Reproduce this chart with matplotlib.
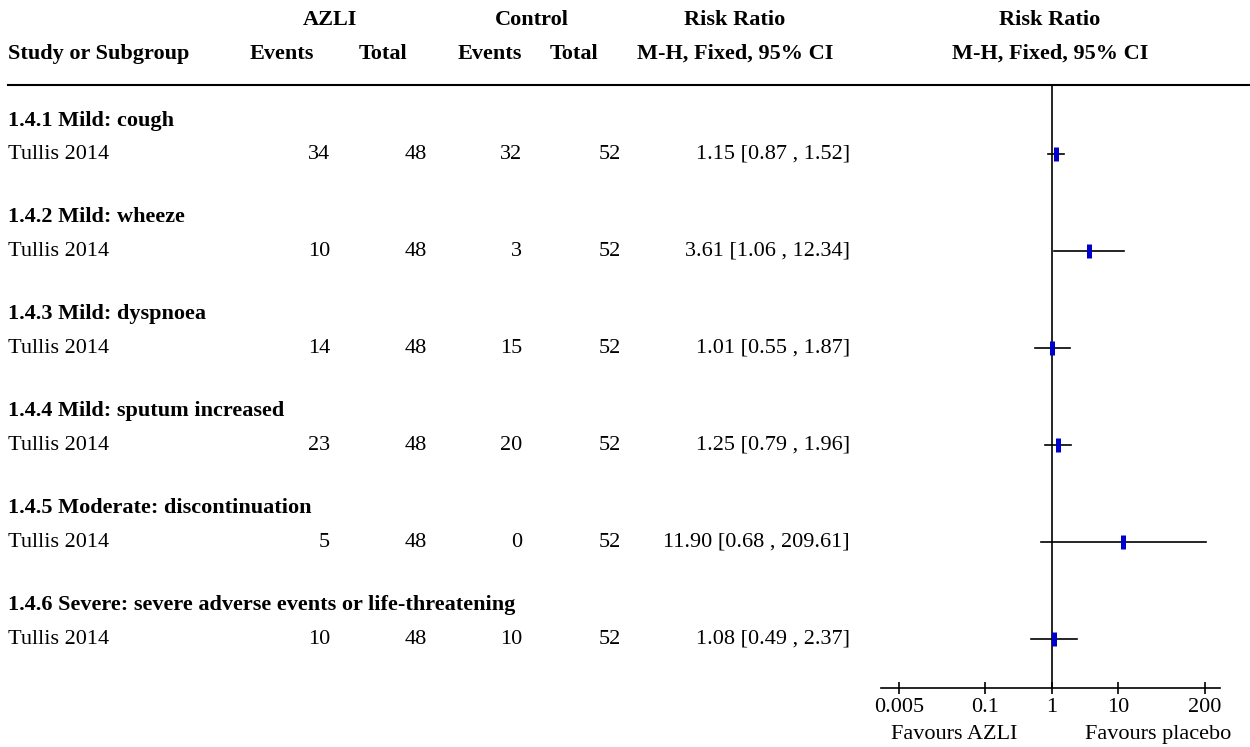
import numpy as np
import matplotlib.pyplot as plt
from matplotlib.transforms import blended_transform_factory

plt.rcParams['font.family'] = ['Liberation Serif', 'DejaVu Serif']

# Data
subgroups = ["1.4.1 Mild: cough",
             "1.4.2 Mild: wheeze",
             "1.4.3 Mild: dyspnoea",
             "1.4.4 Mild: sputum increased",
             "1.4.5 Moderate: discontinuation",
             "1.4.6 Severe: severe adverse events or life-threatening"]
study = "Tullis 2014"
azli_events = [34, 10, 14, 23, 5, 10]
azli_total = [48, 48, 48, 48, 48, 48]
ctrl_events = [32, 3, 15, 20, 0, 10]
ctrl_total = [52, 52, 52, 52, 52, 52]
rr = [1.15, 3.61, 1.01, 1.25, 11.90, 1.08]
ci_low = [0.87, 1.06, 0.55, 0.79, 0.68, 0.49]
ci_high = [1.52, 12.34, 1.87, 1.96, 209.61, 2.37]
ticks = [0.005, 0.1, 1, 10, 200]
tick_labels = ["0.005", "0.1", "1", "10", "200"]

W, H = 1250, 747
fig = plt.figure(figsize=(W / 100, H / 100), dpi=100)

# forest panel: x from 881 to 1220 px, y from header rule (85) to axis (688)
ax = fig.add_axes([881 / W, 1 - 688 / H, 339 / W, (688 - 85) / H])
ax.set_xscale('log')
ax.set_xlim(10 ** -2.57, 10 ** 2.53)
ax.set_ylim(18.66, 0)
for s in ['top', 'right', 'left']:
    ax.spines[s].set_visible(False)
ax.spines['bottom'].set_linewidth(1.2)
ax.set_yticks([])
ax.set_xticks(ticks)
ax.set_xticklabels(tick_labels)
ax.minorticks_off()
ax.tick_params(axis='x', direction='inout', length=9, width=1.2, labelsize=16, pad=3)
ax.axvline(1, color='black', lw=1.2)

fs = 16
tr = blended_transform_factory(fig.transFigure, ax.transData)


def fx(px):
    return px / W


def fy(px):
    return 1 - px / H


# column headers
bold = dict(ha='center', va='center', fontsize=fs, weight='bold')
fig.text(fx(330), fy(20), "AZLI", **bold)
fig.text(fx(532), fy(20), "Control", **bold)
fig.text(fx(735), fy(20), "Risk Ratio", **bold)
fig.text(fx(1050), fy(20), "Risk Ratio", **bold)
fig.text(fx(8), fy(54), "Study or Subgroup", ha='left', va='center', fontsize=fs, weight='bold')
fig.text(fx(282), fy(54), "Events", **bold)
fig.text(fx(383), fy(54), "Total", **bold)
fig.text(fx(490), fy(54), "Events", **bold)
fig.text(fx(574), fy(54), "Total", **bold)
fig.text(fx(735), fy(54), "M-H, Fixed, 95% CI", **bold)
fig.text(fx(1050), fy(54), "M-H, Fixed, 95% CI", **bold)
fig.add_artist(plt.Line2D([fx(8), 1], [fy(85), fy(85)], color='black', lw=1.5))

for i, name in enumerate(subgroups):
    yh = 1.1 + 3 * i
    yt = 2.15 + 3 * i
    ym = 2.15 + 3 * i
    ax.text(fx(8), yh, name, transform=tr, ha='left', va='center', fontsize=fs, weight='bold')
    ax.text(fx(8), yt, study, transform=tr, ha='left', va='center', fontsize=fs)
    ax.text(fx(330), yt, str(azli_events[i]), transform=tr, ha='right', va='center', fontsize=fs)
    ax.text(fx(427), yt, str(azli_total[i]), transform=tr, ha='right', va='center', fontsize=fs)
    ax.text(fx(522), yt, str(ctrl_events[i]), transform=tr, ha='right', va='center', fontsize=fs)
    ax.text(fx(621), yt, str(ctrl_total[i]), transform=tr, ha='right', va='center', fontsize=fs)
    ax.text(fx(850), yt, "%.2f [%.2f , %.2f]" % (rr[i], ci_low[i], ci_high[i]),
            transform=tr, ha='right', va='center', fontsize=fs)
    ax.plot([ci_low[i], ci_high[i]], [ym, ym], color='black', lw=1.2, clip_on=False)
    ax.plot(rr[i], ym, marker='|', ls='none', color='#0000cc', markersize=10,
            markeredgewidth=3.6, clip_on=False)

fig.text(fx(954), fy(739), "Favours AZLI", ha='center', va='baseline', fontsize=fs)
fig.text(fx(1158), fy(739), "Favours placebo", ha='center', va='baseline', fontsize=fs)

fig.savefig("out.png", dpi=100)
